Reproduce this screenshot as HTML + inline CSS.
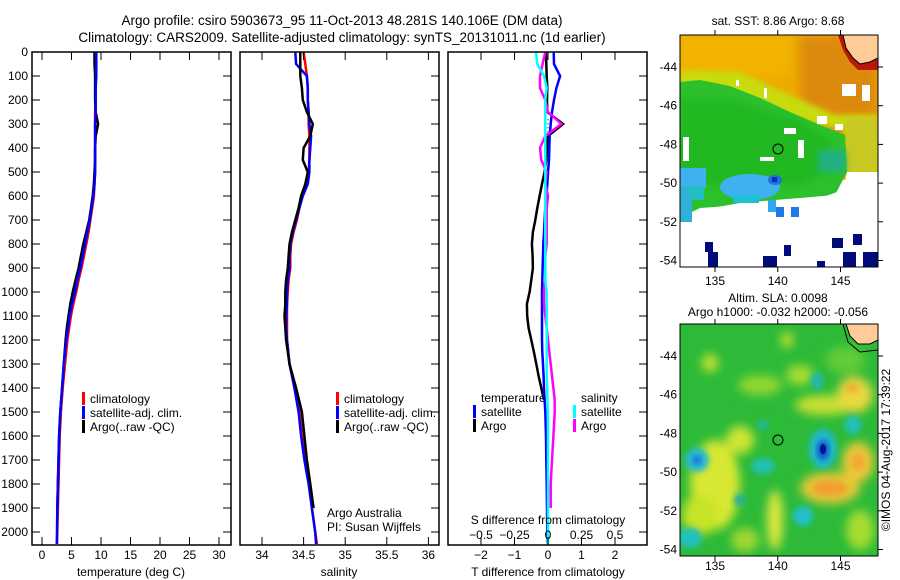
<!DOCTYPE html>
<html><head><meta charset="utf-8"><style>
html,body{margin:0;padding:0;background:#fff;}
svg{display:block;font-family:"Liberation Sans",sans-serif;}
text{fill:#000;}
</style></head><body>
<svg id="fig" width="900" height="580" viewBox="0 0 900 580" xmlns="http://www.w3.org/2000/svg">
<defs>
<filter id="blur3" x="-20%" y="-20%" width="140%" height="140%"><feGaussianBlur stdDeviation="3"/></filter>
<filter id="blur5" x="-30%" y="-30%" width="160%" height="160%"><feGaussianBlur stdDeviation="5"/></filter>
<clipPath id="clipTop"><rect x="680" y="35" width="198" height="232"/></clipPath>
<clipPath id="clipBot"><rect x="680" y="324" width="198" height="232"/></clipPath>
<clipPath id="clipP1"><rect x="32" y="52" width="199" height="493"/></clipPath>
<clipPath id="clipP2"><rect x="240" y="52" width="199" height="493"/></clipPath>
<clipPath id="clipP3"><rect x="448" y="52" width="199" height="493"/></clipPath>
</defs>
<text x="342" y="25" font-size="13.5" text-anchor="middle">Argo profile: csiro 5903673_95 11-Oct-2013 48.281S 140.106E (DM data)</text>
<text x="342" y="42" font-size="13.5" text-anchor="middle">Climatology: CARS2009. Satellite-adjusted climatology: synTS_20131011.nc (1d earlier)</text>

<g id="p1"></g>
<g id="p2"></g>
<g id="p3"></g>

<g>
<text x="778" y="25" font-size="12" text-anchor="middle">sat. SST: 8.86 Argo: 8.68</text>
<g clip-path="url(#clipTop)">
<rect x="680" y="35" width="198" height="232" fill="#fff"/>
<rect x="680" y="35" width="198" height="145" fill="#eeaa00"/>
<rect x="800" y="35" width="78" height="110" fill="#dc8a08" filter="url(#blur5)"/>
<rect x="680" y="35" width="110" height="40" fill="#f2b400" filter="url(#blur5)"/>
<polygon points="680,70 740,72 790,95 835,115 878,115 878,172 845,172 845,130 680,100" fill="#c8dc10" filter="url(#blur3)"/>
<rect x="845" y="118" width="33" height="55" fill="#c8c820" filter="url(#blur3)"/>
<polygon points="680,82 700,80 730,86 760,98 790,112 820,125 845,135 847,172 835,195 800,198 775,200 740,203 700,210 680,215" fill="#2cc02c"/>
<polygon points="680,100 730,100 760,110 800,120 830,140 830,170 800,185 700,185 680,185" fill="#22b822" filter="url(#blur3)"/>
<rect x="818" y="150" width="28" height="22" fill="#20b080" filter="url(#blur3)"/>
<polygon points="680,218 700,208 730,206 760,203 790,200 820,198 843,190 847,172 878,172 878,267 680,267" fill="#fff"/>
<rect x="842" y="84" width="14" height="12" fill="#fff"/><rect x="862" y="85" width="8" height="16" fill="#fff"/>
<rect x="817" y="116" width="10" height="8" fill="#fff"/><rect x="835" y="124" width="8" height="6" fill="#fff"/>
<rect x="784" y="128" width="12" height="6" fill="#fff"/><rect x="798" y="140" width="6" height="18" fill="#fff"/>
<rect x="683" y="137" width="6" height="24" fill="#fff"/><rect x="760" y="157" width="14" height="4" fill="#fff"/>
<rect x="764" y="88" width="3" height="10" fill="#fff"/><rect x="736" y="80" width="3" height="6" fill="#fff"/>
<rect x="680" y="168" width="26" height="20" fill="#40b0f0"/>
<rect x="680" y="186" width="12" height="36" fill="#30b0d8"/>
<rect x="690" y="186" width="14" height="14" fill="#20c0c0"/>
<ellipse cx="750" cy="187" rx="30" ry="13" fill="#40b0f0"/>
<rect x="733" y="195" width="26" height="8" fill="#20c0d0"/>
<ellipse cx="775" cy="180" rx="7" ry="5" fill="#2070e0"/>
<rect x="772" y="177" width="5" height="5" fill="#0830b0"/>
<rect x="768" y="200" width="8" height="12" fill="#30a8f0"/>
<rect x="776" y="207" width="8" height="10" fill="#1e7be6"/><rect x="791" y="207" width="8" height="10" fill="#1e7be6"/>
<g fill="#000a78">
<rect x="705" y="242" width="8" height="10"/><rect x="708" y="252" width="10" height="15"/>
<rect x="763" y="256" width="14" height="11"/><rect x="784" y="245" width="7" height="11"/>
<rect x="832" y="238" width="11" height="10"/><rect x="853" y="234" width="9" height="11"/>
<rect x="843" y="252" width="13" height="15"/><rect x="863" y="252" width="15" height="15"/><rect x="817" y="261" width="8" height="6"/>
</g>
<polygon points="838,35 843,50 850,62 858,70 878,70 878,35" fill="#b81808"/>
<polygon points="843,35 846,48 853,58 860,64 870,62 878,58 878,35" fill="#ffcc99" stroke="#000" stroke-width="1"/>
<circle cx="778" cy="149" r="5" fill="none" stroke="#000" stroke-width="1"/>
</g>
<rect x="680" y="35" width="198" height="232" fill="none" stroke="#000" stroke-width="1"/>
</g>

<g>
<text x="778" y="302" font-size="12" text-anchor="middle">Altim. SLA: 0.0098</text>
<text x="778" y="316" font-size="12" text-anchor="middle">Argo h1000: -0.032 h2000: -0.056</text>
<g clip-path="url(#clipBot)">
<rect x="680" y="324" width="198" height="232" fill="#2cba38"/>
<g filter="url(#blur5)">
<ellipse cx="715" cy="485" rx="25" ry="45" fill="#d8e830"/>
<ellipse cx="700" cy="515" rx="18" ry="20" fill="#c8e428"/>
<ellipse cx="775" cy="520" rx="8" ry="30" fill="#e0e840"/>
<ellipse cx="740" cy="440" rx="14" ry="14" fill="#d0e430"/>
<ellipse cx="710" cy="363" rx="8" ry="9" fill="#c8e430"/>
<ellipse cx="787" cy="340" rx="6" ry="8" fill="#c8e030"/>
<ellipse cx="825" cy="405" rx="30" ry="10" fill="#c8e030"/>
<ellipse cx="855" cy="395" rx="18" ry="18" fill="#e8d840"/>
<ellipse cx="830" cy="488" rx="30" ry="16" fill="#e8c838"/>
<ellipse cx="858" cy="462" rx="16" ry="20" fill="#f0c838"/>
<ellipse cx="760" cy="385" rx="22" ry="10" fill="#90d830"/>
<ellipse cx="800" cy="375" rx="14" ry="10" fill="#a8dc30"/>
<ellipse cx="860" cy="530" rx="14" ry="20" fill="#a8dc30"/>
<ellipse cx="745" cy="540" rx="14" ry="12" fill="#a0d830"/>
<ellipse cx="845" cy="360" rx="20" ry="14" fill="#60cc38"/>
</g>
<g filter="url(#blur3)">
<ellipse cx="830" cy="488" rx="18" ry="8" fill="#f0a030"/>
<ellipse cx="858" cy="462" rx="7" ry="9" fill="#f0a838"/>
<ellipse cx="852" cy="388" rx="7" ry="5" fill="#f0b038"/>
<ellipse cx="823" cy="449" rx="14" ry="20" fill="#20b8c8"/>
<ellipse cx="697" cy="460" rx="12" ry="12" fill="#20b8d0"/>
<ellipse cx="763" cy="466" rx="12" ry="8" fill="#20c0b0"/>
<ellipse cx="803" cy="516" rx="10" ry="10" fill="#20c0c8"/>
<ellipse cx="690" cy="538" rx="12" ry="10" fill="#20c0c0"/>
<ellipse cx="853" cy="425" rx="8" ry="9" fill="#20c0c0"/>
<ellipse cx="817" cy="381" rx="6" ry="9" fill="#20b8b0"/>
<ellipse cx="763" cy="425" rx="5" ry="5" fill="#20b8a8"/>
<ellipse cx="740" cy="500" rx="6" ry="6" fill="#20b098"/>
</g>
<ellipse cx="823" cy="450" rx="6" ry="10" fill="#1050d0" filter="url(#blur3)"/>
<ellipse cx="697" cy="460" rx="4" ry="4" fill="#2060d8" filter="url(#blur3)"/>
<ellipse cx="823" cy="449" rx="3" ry="5" fill="#001090"/>
<polygon points="846,324 850,336 858,344 870,344 878,340 878,324" fill="#ffcc99" stroke="#000" stroke-width="1"/>
<path d="M843,324 L848,342 L860,352 L878,350" fill="none" stroke="#000" stroke-width="1"/>
<circle cx="778" cy="440" r="5" fill="none" stroke="#000" stroke-width="1"/>
</g>
<rect x="680" y="324" width="198" height="232" fill="none" stroke="#000" stroke-width="1"/>
</g>
<g id="maps-axes"></g>
<text transform="translate(890,450) rotate(-90)" font-size="12" text-anchor="middle">©IMOS 04-Aug-2017 17:39:22</text>
</svg>
<script>
// ---- data (depth in dbar) ----
const depths = [0,50,100,150,200,250,300,350,400,450,500,550,600,650,700,750,800,850,900,950,1000,1050,1100,1150,1200,1300,1400,1500,1600,1700,1800,1900,2000,2050];
const tempClim = [9.1,9.1,9.1,9.1,9.1,9.0,9.0,9.0,9.0,9.0,9.0,8.9,8.8,8.5,8.2,7.9,7.5,7.1,6.7,6.2,5.8,5.3,4.9,4.6,4.3,3.9,3.5,3.2,3.0,2.9,2.8,2.7,2.6,2.55];
const tempSat = [9.2,9.2,9.2,9.1,9.1,9.1,9.0,9.0,9.0,9.0,9.0,8.9,8.7,8.4,8.1,7.7,7.3,6.9,6.5,6.0,5.6,5.1,4.7,4.4,4.1,3.7,3.4,3.1,2.9,2.8,2.7,2.6,2.55,2.5];
const argoDepths = [0,50,100,150,200,250,300,350,400,450,500,550,600,650,700,750,800,850,900,950,1000,1050,1100,1150,1200,1300,1400,1500,1600,1700,1800,1900];
const tempArgo = [8.9,8.9,9.0,9.0,9.0,9.1,9.5,9.1,9.0,9.0,8.9,8.8,8.6,8.3,8.0,7.5,7.0,6.6,6.2,5.7,5.2,4.8,4.5,4.2,4.0,3.7,3.4,3.1,2.9,2.8,2.7,2.6];
const salClim = [34.50,34.52,34.54,34.55,34.55,34.56,34.56,34.57,34.57,34.57,34.56,34.53,34.48,34.45,34.42,34.38,34.35,34.34,34.34,34.32,34.31,34.30,34.30,34.30,34.30,34.33,34.40,34.45,34.48,34.52,34.57,34.60,34.64,34.66];
const salSat = [34.40,34.41,34.54,34.55,34.55,34.56,34.57,34.59,34.58,34.57,34.57,34.55,34.49,34.45,34.41,34.37,34.34,34.33,34.33,34.31,34.30,34.30,34.29,34.29,34.30,34.33,34.39,34.44,34.47,34.51,34.56,34.60,34.64,34.65];
const salArgo = [34.46,34.46,34.46,34.48,34.49,34.54,34.61,34.58,34.50,34.49,34.55,34.52,34.47,34.44,34.40,34.36,34.33,34.32,34.31,34.29,34.28,34.28,34.27,34.28,34.29,34.33,34.41,34.48,34.51,34.54,34.58,34.62];
const diffDepths = [0,50,100,150,200,250,300,350,400,450,500,550,600,650,700,750,800,850,900,950,1000,1050,1100,1150,1200,1250,1300,1350,1400,1450,1500,1600,1700,1800,1900,2000,2050];
const dTempSat = [0.17,0.18,0.36,0.25,0.18,0.12,0.08,0.05,0.04,0.03,0.0,-0.02,-0.05,-0.08,-0.1,-0.12,-0.14,-0.15,-0.16,-0.17,-0.18,-0.18,-0.18,-0.18,-0.18,-0.17,-0.15,-0.13,-0.12,-0.1,-0.08,-0.06,-0.05,-0.04,-0.03,-0.02,-0.01];
const dTempArgo = [-0.06,-0.05,-0.04,-0.02,-0.03,-0.02,0.45,0.0,-0.03,-0.05,-0.1,-0.18,-0.25,-0.32,-0.38,-0.45,-0.48,-0.46,-0.45,-0.5,-0.55,-0.63,-0.62,-0.58,-0.5,-0.42,-0.35,-0.28,-0.2,-0.12,null,null,null,null,null,null,null];
const dSalSat = [-0.09,-0.08,-0.03,-0.01,-0.02,-0.02,-0.02,-0.02,-0.02,-0.02,-0.02,-0.02,-0.02,-0.02,-0.02,-0.02,-0.02,-0.02,-0.02,-0.02,-0.01,-0.01,-0.01,-0.01,-0.01,-0.01,-0.01,-0.01,-0.005,-0.005,0,0,0,0,0,0,0];
const dSalArgo = [-0.02,-0.04,-0.06,-0.06,-0.02,0.0,0.10,-0.02,-0.06,-0.05,-0.01,-0.02,0.0,-0.01,-0.01,-0.01,-0.01,-0.02,-0.02,-0.02,-0.03,-0.03,-0.02,-0.01,0.0,0.01,0.02,0.03,0.04,0.05,0.05,0.04,0.03,0.02,0.02,null,null];
const depthTicks = [0,100,200,300,400,500,600,700,800,900,1000,1100,1200,1300,1400,1500,1600,1700,1800,1900,2000];
const tempTicks = [0,5,10,15,20,25,30];
const salTicks = [34,34.5,35,35.5,36];
const salTickLabels = ["34","34.5","35","35.5","36"];
const dTTicks = [-2,-1,0,1,2];
const dSTicks = [-0.5,-0.25,0,0.25,0.5];
const dSTickLabels = ["\u22120.5","\u22120.25","0","0.25","0.5"];
const lonTicks = [135,140,145];
const latTicks = [-44,-46,-48,-50,-52,-54];

const NS = "http://www.w3.org/2000/svg";
function mk(parent, tag, attrs, txt){const e=document.createElementNS(NS,tag);for(const k in attrs)e.setAttribute(k,attrs[k]);if(txt!==undefined)e.textContent=txt;parent.appendChild(e);return e;}
const top0=52, bot0=545;
function yD(d){return top0 + d*0.24;}
function xT(v){return 42 + v*5.9;}
function xS(v){return 262 + (v-34)*83.2;}
function xDT(v){return 548 + v*33.5;}
function xDS(v){return 548 + v*134;}

function line(g, ds, vals, fx, color, name){
  let d=""; let pen=false;
  for(let i=0;i<ds.length;i++){ if(vals[i]===null||vals[i]===undefined){pen=false;continue;}
    d += (pen?"L":"M")+fx(vals[i]).toFixed(1)+","+yD(ds[i]).toFixed(1)+" "; pen=true;}
  const p = mk(g,"path",{d:d,fill:"none",stroke:color,"stroke-width":"2.5","stroke-linejoin":"miter"});
  
  
  return p;
}
function frame(g,x0,x1){
  const r = mk(g,"rect",{x:x0,y:top0,width:x1-x0,height:bot0-top0,fill:"none",stroke:"#000","stroke-width":"1.5"});
  
  
}
function depthTicksRight(g,x1,left){
  depthTicks.forEach(d=>{const y=yD(d);
    mk(g,"line",{x1:x1-8,x2:x1,y1:y,y2:y,stroke:"#000","stroke-width":"1"});
    if(left) mk(g,"line",{x1:left,x2:left+8,y1:y,y2:y,stroke:"#000","stroke-width":"1"});
  });
}
function xTicks(g,ticks,labels,fx,ylab,bottomTicks){
  ticks.forEach((t,i)=>{const x=fx(t);
    mk(g,"line",{x1:x,x2:x,y1:top0,y2:top0+8,stroke:"#000","stroke-width":"1"});
    if(bottomTicks) mk(g,"line",{x1:x,x2:x,y1:bot0-8,y2:bot0,stroke:"#000","stroke-width":"1"});
    const tx = mk(g,"text",{x:x,y:ylab,"font-size":"12","text-anchor":"middle"},labels[i]);
    
    
  });
}
function legendEntry(g,x,y,color,label){
  if(color) mk(g,"rect",{x:x,y:y-11,width:3,height:13,fill:color});
  const t = mk(g,"text",{x:x+8,y:y,"font-size":"12"},label);
  
  
}

const p1=document.getElementById("p1");
const g1=mk(p1,"g",{"clip-path":"url(#clipP1)"});
line(g1,depths,tempClim,xT,"#ff0000","temp-climatology-line");
line(g1,argoDepths,tempArgo,xT,"#000000","temp-argo-line");
line(g1,depths,tempSat,xT,"#0000ff","temp-satellite-line");
frame(p1,32,231); depthTicksRight(p1,231,32);
depthTicks.forEach(d=>{const t=mk(p1,"text",{x:28,y:yD(d)+4,"font-size":"12","text-anchor":"end"},String(d));
  
  });
xTicks(p1,tempTicks,tempTicks.map(String),xT,559,true);
{const t=mk(p1,"text",{x:131,y:576,"font-size":"12","text-anchor":"middle"},"temperature (deg C)");
  }
legendEntry(p1,82,403,"#ff0000","climatology");
legendEntry(p1,82,417,"#0000ff","satellite-adj. clim.");
legendEntry(p1,82,431,"#000000","Argo(..raw -QC)");

const p2=document.getElementById("p2");
const g2=mk(p2,"g",{"clip-path":"url(#clipP2)"});
line(g2,depths,salClim,xS,"#ff0000","sal-climatology-line");
line(g2,depths,salSat,xS,"#0000ff","sal-satellite-line");
line(g2,argoDepths,salArgo,xS,"#000000","sal-argo-line");
frame(p2,240,439); depthTicksRight(p2,439,null);
xTicks(p2,salTicks,salTickLabels,xS,559,true);
{const t=mk(p2,"text",{x:339,y:576,"font-size":"12","text-anchor":"middle"},"salinity");
  }
legendEntry(p2,336,403,"#ff0000","climatology");
legendEntry(p2,336,417,"#0000ff","satellite-adj. clim.");
legendEntry(p2,336,431,"#000000","Argo(..raw -QC)");
{const t=mk(p2,"text",{x:327,y:517,"font-size":"12"},"Argo Australia");
 const t2=mk(p2,"text",{x:327,y:531,"font-size":"12"},"PI: Susan Wijffels");}

const p3=document.getElementById("p3");
const g3=mk(p3,"g",{"clip-path":"url(#clipP3)"});
mk(g3,"line",{x1:548,x2:548,y1:yD(280),y2:yD(540),stroke:"#000","stroke-width":"1","stroke-dasharray":"1,3"});
line(g3,diffDepths,dTempArgo,xDT,"#000000","dtemp-argo-line");
line(g3,diffDepths,dTempSat,xDT,"#0000ff","dtemp-satellite-line");
line(g3,diffDepths,dSalArgo,xDS,"#ff00ff","dsal-argo-line");
line(g3,diffDepths,dSalSat,xDS,"#00ffff","dsal-satellite-line");
frame(p3,448,647); depthTicksRight(p3,647,null);
dTTicks.forEach(t=>{const x=xDT(t);mk(p3,"line",{x1:x,x2:x,y1:top0,y2:top0+8,stroke:"#000","stroke-width":"1"});
  mk(p3,"line",{x1:x,x2:x,y1:bot0-8,y2:bot0,stroke:"#000","stroke-width":"1"});
  const tx=mk(p3,"text",{x:x,y:559,"font-size":"12","text-anchor":"middle"},t<0?"\u2212"+Math.abs(t):String(t));
   });
dSTicks.forEach((t,i)=>{const tx=mk(p3,"text",{x:xDS(t),y:539,"font-size":"12","text-anchor":"middle"},dSTickLabels[i]);
   });
{const t=mk(p3,"text",{x:548,y:524,"font-size":"12","text-anchor":"middle"},"S difference from climatology");
  
 const t2=mk(p3,"text",{x:548,y:576,"font-size":"12","text-anchor":"middle"},"T difference from climatology");
  }
legendEntry(p3,473,402,null,"temperature");
legendEntry(p3,473,416,"#0000ff","satellite");
legendEntry(p3,473,430,"#000000","Argo");
legendEntry(p3,573,402,null,"salinity");
legendEntry(p3,573,416,"#00ffff","satellite");
legendEntry(p3,573,430,"#ff00ff","Argo");

const ma=document.getElementById("maps-axes");
function mapAxes(y0,lat44,labY){
  const pxDeg=19.35;
  lonTicks.forEach(l=>{const x=715+(l-135)*12.55;
    mk(ma,"line",{x1:x,x2:x,y1:y0-5,y2:y0,stroke:"#000"});
    mk(ma,"line",{x1:x,x2:x,y1:y0+232,y2:y0+237,stroke:"#000"});
    const t=mk(ma,"text",{x:x,y:labY,"font-size":"12","text-anchor":"middle"},String(l));
     });
  latTicks.forEach(l=>{const y=lat44+(-l-44)*pxDeg;
    mk(ma,"line",{x1:878,x2:883,y1:y,y2:y,stroke:"#000"});
    const t=mk(ma,"text",{x:677,y:y+4,"font-size":"12","text-anchor":"end"},String(l));
     });
}
mapAxes(35,67,285);
mapAxes(324,356,570);
</script>
</body></html>
